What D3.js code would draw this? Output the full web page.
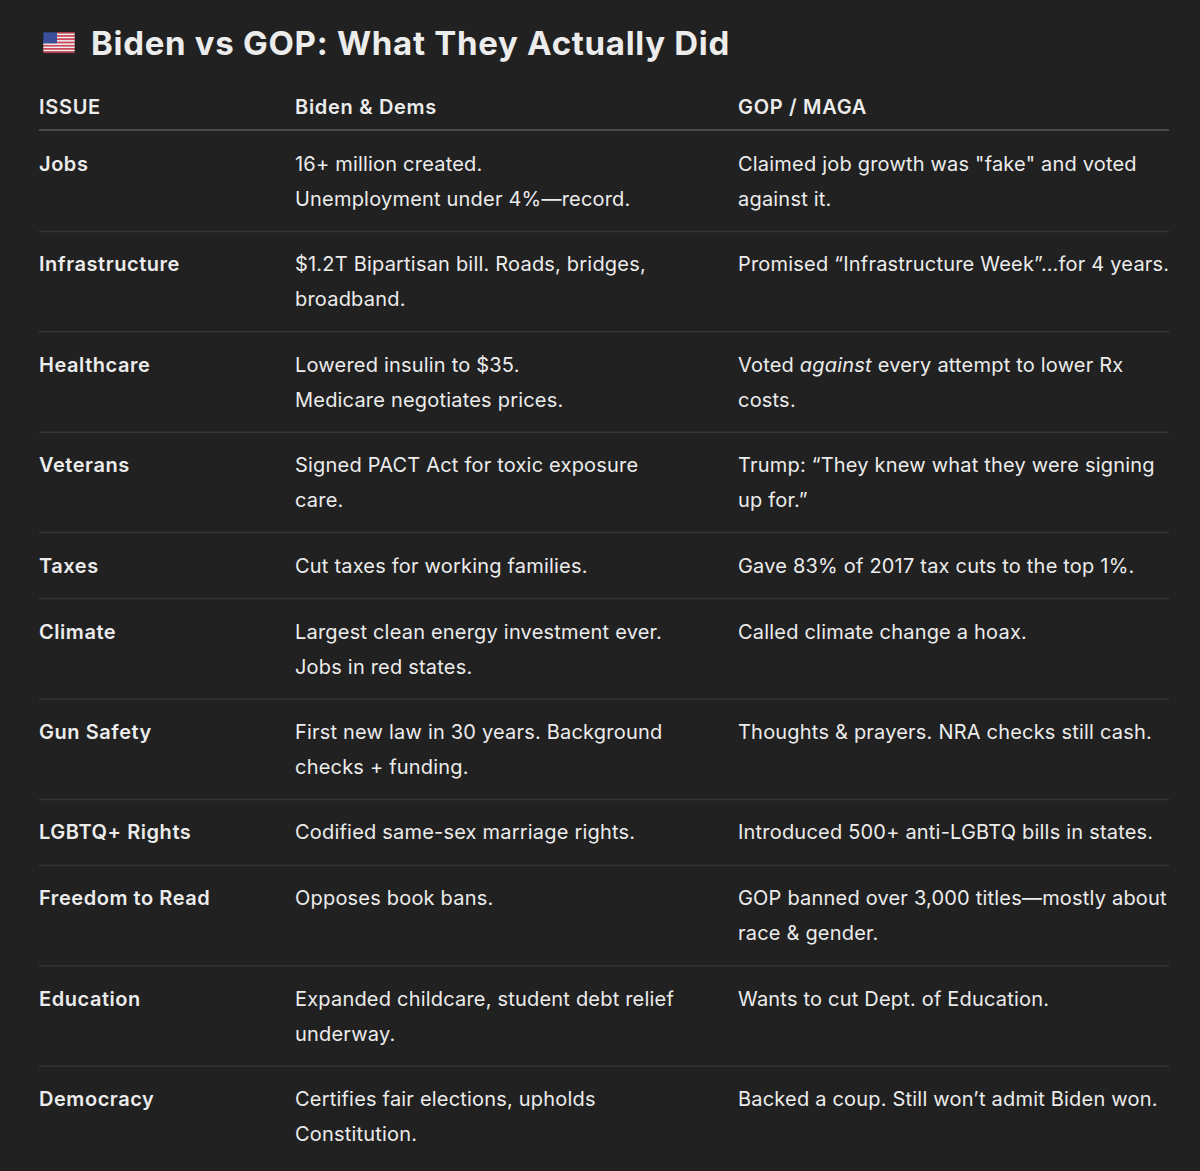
<!DOCTYPE html>
<html>
<head>
<meta charset="utf-8">
<script src="https://cdn.jsdelivr.net/npm/d3@7"></script>
<style>
  html, body { margin: 0; padding: 0; background: #212121; }
  text { font-family: Inter, "Noto Sans", sans-serif; fill: #ececec; }
</style>
</head>
<body>
<div id="chart"></div>
<script>
var title = "Biden vs GOP: What They Actually Did";
var headers = ["ISSUE", "Biden & Dems", "GOP / MAGA"];

var issues = ["Jobs", "Infrastructure", "Healthcare", "Veterans", "Taxes", "Climate",
  "Gun Safety", "LGBTQ+ Rights", "Freedom to Read", "Education", "Democracy"];

var dems = [
  ["16+ million created.", "Unemployment under 4%\u2014record."],
  ["$1.2T Bipartisan bill. Roads, bridges,", "broadband."],
  ["Lowered insulin to $35.", "Medicare negotiates prices."],
  ["Signed PACT Act for toxic exposure", "care."],
  ["Cut taxes for working families."],
  ["Largest clean energy investment ever.", "Jobs in red states."],
  ["First new law in 30 years. Background", "checks + funding."],
  ["Codified same-sex marriage rights."],
  ["Opposes book bans."],
  ["Expanded childcare, student debt relief", "underway."],
  ["Certifies fair elections, upholds", "Constitution."]
];

// *word* marks italics
var gop = [
  ["Claimed job growth was \"fake\" and voted", "against it."],
  ["Promised \u201cInfrastructure Week\u201d\u2026for 4 years."],
  ["Voted *against* every attempt to lower Rx", "costs."],
  ["Trump: \u201cThey knew what they were signing", "up for.\u201d"],
  ["Gave 83% of 2017 tax cuts to the top 1%."],
  ["Called climate change a hoax."],
  ["Thoughts & prayers. NRA checks still cash."],
  ["Introduced 500+ anti-LGBTQ bills in states."],
  ["GOP banned over 3,000 titles\u2014mostly about", "race & gender."],
  ["Wants to cut Dept. of Education."],
  ["Backed a coup. Still won\u2019t admit Biden won."]
];

var W = 1200, H = 1171;
var lineH = 34.4, pad = 31.6, textGap = 35;

var svg = d3.select("#chart").append("svg")
  .attr("width", W).attr("height", H);

var x = d3.scaleOrdinal().domain(headers).range([39, 295, 738]);

var rows = issues.map(function(d, i) {
  return { issue: d, dem: dems[i], gop: gop[i],
           n: Math.max(dems[i].length, gop[i].length) };
});
var acc = 131;
rows.forEach(function(r) {
  r.y0 = acc;
  r.h = pad + lineH * r.n;
  acc += r.h;
});

// title with flag
var flag = svg.append("g").attr("transform", "translate(43,32)");
var stripes = d3.range(13);
var sy = d3.scaleBand().domain(stripes).range([0, 21]);
flag.selectAll("rect.s").data(stripes).enter().append("rect")
  .attr("x", 0).attr("width", 32)
  .attr("y", function(d) { return sy(d); })
  .attr("height", sy.bandwidth() + 0.2)
  .attr("fill", function(d) { return d % 2 ? "#f3eef0" : "#d8485a"; });
flag.append("rect").attr("width", 14).attr("height", sy(7))
  .attr("fill", "#3c4f9a");
flag.append("rect").attr("width", 32).attr("height", 21).attr("rx", 2)
  .attr("fill", "none").attr("stroke", "#1a1a1a").attr("stroke-width", 0.5);

svg.append("text").attr("x", 91).attr("y", 55)
  .attr("font-size", 33).attr("font-weight", 700)
  .attr("letter-spacing", 0.7)
  .text(title);

// header
svg.selectAll("text.hdr").data(headers).enter().append("text")
  .attr("class", "hdr")
  .attr("x", function(d) { return x(d); })
  .attr("y", 114)
  .attr("font-size", 20).attr("font-weight", 600)
  .attr("letter-spacing", 0.7)
  .text(function(d) { return d; });

svg.append("line").attr("x1", 39).attr("x2", 1169)
  .attr("y1", 130).attr("y2", 130)
  .attr("stroke", "#4a4a4a").attr("stroke-width", 2);

var g = svg.selectAll("g.row").data(rows).enter().append("g")
  .attr("class", "row")
  .attr("transform", function(d) { return "translate(0," + d.y0 + ")"; });

g.filter(function(d, i) { return i > 0; }).append("line")
  .attr("x1", 39).attr("x2", 1169)
  .attr("y1", 0).attr("y2", 0)
  .attr("stroke", "#353535").attr("stroke-width", 1.5);

g.append("text")
  .attr("x", x(headers[0])).attr("y", 40)
  .attr("font-size", 20).attr("font-weight", 600)
  .attr("letter-spacing", 0.55)
  .text(function(d) { return d.issue; });

function addLines(sel, key, col, ls) {
  sel.each(function(d) {
    var t = d3.select(this).append("text")
      .attr("x", x(col)).attr("y", 40).attr("font-size", 20)
      .attr("letter-spacing", ls);
    d[key].forEach(function(line, j) {
      var parts = line.split("*");
      parts.forEach(function(p, k) {
        var ts = t.append("tspan").text(p);
        if (k === 0) ts.attr("x", x(col)).attr("dy", j === 0 ? 0 : textGap);
        if (k % 2 === 1) ts.attr("font-style", "italic");
      });
    });
  });
}
addLines(g, "dem", headers[1], 0.2);
addLines(g, "gop", headers[2], 0.2);
</script>
</body>
</html>
